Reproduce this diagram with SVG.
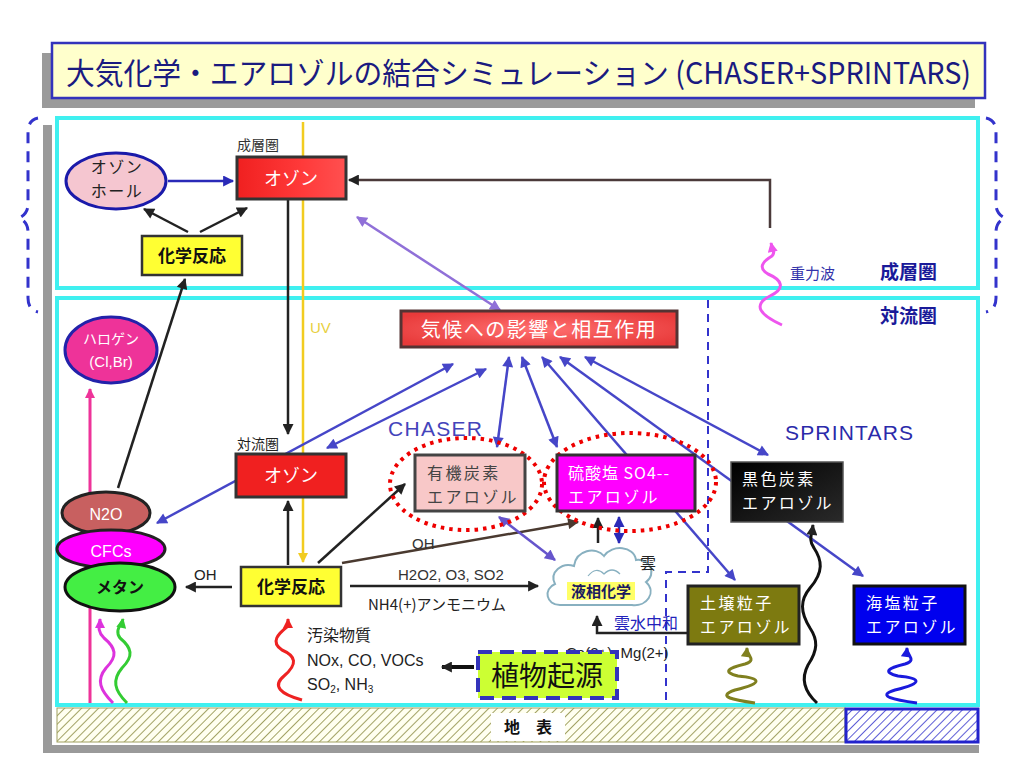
<svg xmlns="http://www.w3.org/2000/svg" width="1024" height="768" viewBox="0 0 1024 768">
<style>
.jp{font-family:"Noto Sans CJK JP","Liberation Sans",sans-serif}
.la{font-family:"Liberation Sans","Noto Sans CJK JP",sans-serif}
.bx{stroke:#333;stroke-width:3}
.wt{fill:#fff}
.bt{font-size:16px;letter-spacing:2.4px}
.blue{stroke:#4646c8;stroke-width:2.5;fill:none;marker-start:url(#mb);marker-end:url(#mb)}
.blk{stroke:#222;stroke-width:2.5;fill:none;marker-end:url(#mk)}
.wave{fill:none;stroke-width:3}
</style>
<defs>
<marker id="mk" viewBox="0 0 10 10" refX="9" refY="5" markerWidth="13" markerHeight="11" markerUnits="userSpaceOnUse" orient="auto-start-reverse"><path d="M0,0 L10,5 L0,10 z" fill="#222"/></marker>
<marker id="mbr" viewBox="0 0 10 10" refX="9" refY="5" markerWidth="13" markerHeight="11" markerUnits="userSpaceOnUse" orient="auto-start-reverse"><path d="M0,0 L10,5 L0,10 z" fill="#4a3a30"/></marker>
<marker id="mb" viewBox="0 0 10 10" refX="9" refY="5" markerWidth="13" markerHeight="11" markerUnits="userSpaceOnUse" orient="auto-start-reverse"><path d="M0,0 L10,5 L0,10 z" fill="#4646c8"/></marker>
<marker id="mbd" viewBox="0 0 10 10" refX="9" refY="5" markerWidth="13" markerHeight="11" markerUnits="userSpaceOnUse" orient="auto-start-reverse"><path d="M0,0 L10,5 L0,10 z" fill="#2a2ab8"/></marker>
<marker id="mp" viewBox="0 0 10 10" refX="9" refY="5" markerWidth="13" markerHeight="11" markerUnits="userSpaceOnUse" orient="auto-start-reverse"><path d="M0,0 L10,5 L0,10 z" fill="#9070d8"/></marker>
<marker id="mpv" viewBox="0 0 10 10" refX="9" refY="5" markerWidth="13" markerHeight="11" markerUnits="userSpaceOnUse" orient="auto-start-reverse"><path d="M0,0 L10,5 L0,10 z" fill="#6655cc"/></marker>
<marker id="my" viewBox="0 0 10 10" refX="9" refY="5" markerWidth="12" markerHeight="10" markerUnits="userSpaceOnUse" orient="auto"><path d="M0,0 L10,5 L0,10 z" fill="#f2cc20"/></marker>
<marker id="mpk" viewBox="0 0 10 10" refX="9" refY="5" markerWidth="12" markerHeight="10" markerUnits="userSpaceOnUse" orient="auto"><path d="M0,0 L10,5 L0,10 z" fill="#ee3399"/></marker>
<marker id="mmg" viewBox="0 0 10 10" refX="9" refY="5" markerWidth="12" markerHeight="10" markerUnits="userSpaceOnUse" orient="auto"><path d="M0,0 L10,5 L0,10 z" fill="#dd33dd"/></marker>
<marker id="mgr" viewBox="0 0 10 10" refX="9" refY="5" markerWidth="12" markerHeight="10" markerUnits="userSpaceOnUse" orient="auto"><path d="M0,0 L10,5 L0,10 z" fill="#33cc33"/></marker>
<marker id="mrd" viewBox="0 0 10 10" refX="9" refY="5" markerWidth="12" markerHeight="10" markerUnits="userSpaceOnUse" orient="auto"><path d="M0,0 L10,5 L0,10 z" fill="#ee2222"/></marker>
<marker id="mol" viewBox="0 0 10 10" refX="9" refY="5" markerWidth="12" markerHeight="10" markerUnits="userSpaceOnUse" orient="auto"><path d="M0,0 L10,5 L0,10 z" fill="#808020"/></marker>
<marker id="mbl" viewBox="0 0 10 10" refX="9" refY="5" markerWidth="12" markerHeight="10" markerUnits="userSpaceOnUse" orient="auto"><path d="M0,0 L10,5 L0,10 z" fill="#1a1add"/></marker>
<marker id="mgw" viewBox="0 0 10 10" refX="9" refY="5" markerWidth="12" markerHeight="10" markerUnits="userSpaceOnUse" orient="auto"><path d="M0,0 L10,5 L0,10 z" fill="#ee55ee"/></marker>
<pattern id="hol" width="6" height="6" patternUnits="userSpaceOnUse" patternTransform="rotate(45)"><rect width="6" height="6" fill="#fffff0"/><line x1="0" y1="0" x2="0" y2="6" stroke="#8a8a40" stroke-width="1.6"/></pattern>
<pattern id="hbl" width="6" height="6" patternUnits="userSpaceOnUse" patternTransform="rotate(45)"><rect width="6" height="6" fill="#fff"/><line x1="0" y1="0" x2="0" y2="6" stroke="#3333cc" stroke-width="1.6"/></pattern>
<linearGradient id="gred" x1="0" y1="0" x2="1" y2="0"><stop offset="0" stop-color="#f02020"/><stop offset="0.6" stop-color="#ff3a3a"/><stop offset="1" stop-color="#ff5050"/></linearGradient>
<radialGradient id="gcl" cx="0.5" cy="0.5" r="0.6"><stop offset="0" stop-color="#ff7070"/><stop offset="1" stop-color="#e83a3a"/></radialGradient>
<linearGradient id="gbk" x1="0" y1="0" x2="1" y2="1"><stop offset="0" stop-color="#000"/><stop offset="1" stop-color="#2a2a2a"/></linearGradient>
</defs>

<rect width="1024" height="768" fill="#fff"/>

<!-- title -->
<g id="title">
<rect x="42" y="53" width="933" height="55" fill="#9a9a9a"/>
<rect x="52" y="43" width="933" height="55" fill="#ffffcc" stroke="#3333bb" stroke-width="2.5"/>
<text x="66" y="84" class="jp" font-size="30" fill="#1a1a80" textLength="905" lengthAdjust="spacingAndGlyphs">大気化学・エアロゾルの結合シミュレーション (CHASER+SPRINTARS)</text>
</g>

<!-- panel -->
<g id="panel">
<rect x="43" y="125" width="936" height="628" fill="#9a9a9a"/>
<rect x="52" y="117" width="936" height="628" fill="#fff"/>
<rect x="57" y="118" width="921" height="170" fill="none" stroke="#3ff0f0" stroke-width="4"/>
<rect x="57" y="298" width="921" height="407" fill="none" stroke="#3ff0f0" stroke-width="4"/>
<path d="M38,118 Q28,120 28,132 L28,204 Q28,214 19,218 Q28,222 28,232 L28,298 Q28,310 38,312" fill="none" stroke="#3333cc" stroke-width="3" stroke-dasharray="11,8"/>
<path d="M986,118 Q996,120 996,132 L996,204 Q996,214 1005,218 Q996,222 996,232 L996,298 Q996,310 986,312" fill="none" stroke="#3333cc" stroke-width="3" stroke-dasharray="11,8"/>
<text x="880" y="279" class="jp" font-size="19" font-weight="bold" fill="#1a1a99">成層圏</text>
<text x="880" y="323" class="jp" font-size="19" font-weight="bold" fill="#1a1a99">対流圏</text>
<text x="790" y="279" class="jp" font-size="15" fill="#3333aa">重力波</text>
<text x="388" y="436" class="la" font-size="21" fill="#4444bb" textLength="94">CHASER</text>
<text x="785" y="440" class="la" font-size="21" fill="#2a2aaa" textLength="128">SPRINTARS</text>
<text x="310" y="333" class="la" font-size="15" fill="#e8d040">UV</text>
<path d="M708,300 L708,572 L666,572 L666,704" fill="none" stroke="#3333cc" stroke-width="2" stroke-dasharray="8,6"/>
</g>

<!-- ground -->
<g id="ground">
<rect x="57" y="708" width="788" height="34" fill="url(#hol)" stroke="#a0a060" stroke-width="1"/>
<rect x="846" y="709" width="132" height="33" fill="url(#hbl)" stroke="#2222cc" stroke-width="3"/>
<rect x="491" y="713" width="74" height="28" fill="#fff"/>
<text x="528" y="733" class="jp" font-size="16" font-weight="bold" fill="#111" text-anchor="middle">地　表</text>
</g>

<!-- connectors -->
<g id="connectors">
<line x1="303" y1="122" x2="303" y2="562" stroke="#f2cc20" stroke-width="2.5" marker-end="url(#my)"/>
<path d="M770,228 L770,180 L349,180" fill="none" stroke="#4a3a3a" stroke-width="2.5" marker-end="url(#mk)"/>
<line x1="168" y1="181" x2="233" y2="181" stroke="#2a2ab8" stroke-width="2.5" marker-end="url(#mbd)"/>
<line x1="188" y1="232" x2="144" y2="209" class="blk"/>
<line x1="200" y1="232" x2="247" y2="208" class="blk"/>
<line x1="118" y1="488" x2="185" y2="279" class="blk"/>
<line x1="288" y1="200" x2="288" y2="434" class="blk"/>
<line x1="288" y1="565" x2="288" y2="501" class="blk"/>
<line x1="357" y1="217" x2="500" y2="310" stroke="#9070d8" stroke-width="2.5" marker-start="url(#mp)" marker-end="url(#mp)"/>
<line x1="453" y1="364" x2="157" y2="523" class="blue"/>
<line x1="486" y1="369" x2="327" y2="448" class="blue"/>
<line x1="509" y1="357" x2="497" y2="447" class="blue"/>
<line x1="522" y1="357" x2="557" y2="447" class="blue"/>
<line x1="542" y1="357" x2="735" y2="580" class="blue"/>
<line x1="560" y1="357" x2="863" y2="576" class="blue"/>
<line x1="585" y1="357" x2="768" y2="455" class="blue"/>
<line x1="90" y1="703" x2="90" y2="389" stroke="#ee3399" stroke-width="3" marker-end="url(#mpk)"/>
<path d="M113,703 C100,690 96,680 106,668 C118,656 116,648 104,638 C96,630 100,624 100,619" class="wave" stroke="#dd33dd" marker-end="url(#mmg)"/>
<path d="M127,703 C114,690 112,680 122,668 C134,656 132,648 120,638 C114,630 122,624 123,619" class="wave" stroke="#33cc33" marker-end="url(#mgr)"/>
<path d="M302,700 C280,694 272,686 284,676 C298,664 296,656 282,650 C270,642 278,634 288,626 L288,619" class="wave" stroke="#ee2222" marker-end="url(#mrd)"/>
<path d="M755,703 C735,700 715,697 735,690 C765,683 760,678 738,676 C722,672 728,668 745,664 C758,660 746,655 747,648" class="wave" stroke="#808020" marker-end="url(#mol)"/>
<path d="M917,703 C895,700 875,696 895,690 C925,683 920,678 898,676 C882,672 888,668 905,664 C918,660 906,655 907,648" class="wave" stroke="#1a1add" marker-end="url(#mbl)"/>
<path d="M817,703 C805,692 800,680 808,665 C818,650 818,640 810,628 C800,612 800,600 810,588 C824,572 822,560 814,548 C808,540 812,534 813,525" class="wave" stroke="#111" marker-end="url(#mk)"/>
<path d="M782,325 C760,315 752,305 770,296 C786,288 782,280 768,274 C758,268 762,262 772,256 C776,252 772,248 771,243" class="wave" stroke="#ee55ee" marker-end="url(#mgw)"/>
<line x1="232" y1="587" x2="186" y2="587" class="blk"/>
<text x="194" y="580" class="la" font-size="15" fill="#222">OH</text>
<line x1="318" y1="563" x2="405" y2="484" class="blk"/>
<line x1="342" y1="563" x2="578" y2="522" stroke="#4a3a30" stroke-width="2.5" marker-end="url(#mbr)"/>
<text x="412" y="549" class="la" font-size="15" fill="#333">OH</text>
<line x1="350" y1="586" x2="538" y2="586" class="blk"/>
<text x="398" y="580" class="la" font-size="15" fill="#333">H2O2, O3, SO2</text>
<text x="368" y="610" class="jp" font-size="15" fill="#222">NH4(+)アンモニウム</text>
<line x1="598" y1="543" x2="598" y2="518" class="blk"/>
<line x1="619" y1="543" x2="619" y2="517" stroke="#2a2ab8" stroke-width="2.5" marker-start="url(#mbd)" marker-end="url(#mbd)"/>
<line x1="499" y1="517" x2="555" y2="560" stroke="#6655cc" stroke-width="2.5" marker-start="url(#mpv)" marker-end="url(#mpv)"/>
<path d="M688,633 L597,633 L597,616" fill="none" stroke="#222" stroke-width="2.5" marker-end="url(#mk)"/>
<text x="614" y="629" class="jp" font-size="16" fill="#2222bb">雲水中和</text>
<text x="566" y="658" class="la" font-size="15" fill="#222">Ca(2+), Mg(2+)</text>
<line x1="474" y1="667" x2="442" y2="667" stroke="#111" stroke-width="4" marker-end="url(#mk)"/>
</g>

<!-- nodes -->
<g id="ozone-hole">
<ellipse cx="116" cy="181" rx="50" ry="28" fill="#f5c6d0" stroke="#1a1aaa" stroke-width="3"/>
<text x="117" y="173" class="jp" font-size="16" fill="#222" text-anchor="middle" letter-spacing="1.5">オゾン</text>
<text x="117" y="197" class="jp" font-size="16" fill="#222" text-anchor="middle" letter-spacing="1.5">ホール</text>
</g>
<g id="ozone-strat">
<text x="237" y="150" class="jp" font-size="14" fill="#333">成層圏</text>
<rect x="237" y="157" width="109" height="42" fill="url(#gred)" class="bx"/>
<text x="291" y="185" class="jp wt" font-size="18" text-anchor="middle">オゾン</text>
</g>
<g id="chem-upper">
<rect x="142" y="236" width="100" height="39" fill="#ffff33" stroke="#333" stroke-width="2.5"/>
<text x="192" y="262" class="jp" font-size="17" font-weight="bold" fill="#111" text-anchor="middle">化学反応</text>
</g>
<g id="climate">
<rect x="401" y="311" width="276" height="36" fill="url(#gcl)" stroke="#553333" stroke-width="3"/>
<text x="539" y="337" class="jp wt" font-size="20" text-anchor="middle" letter-spacing="1.5">気候への影響と相互作用</text>
</g>
<g id="halogen">
<ellipse cx="111" cy="350" rx="46" ry="33" fill="#ee3399" stroke="#2222aa" stroke-width="3"/>
<text x="111" y="344" class="jp wt" font-size="14" text-anchor="middle">ハロゲン</text>
<text x="111" y="367" class="la wt" font-size="15" text-anchor="middle">(Cl,Br)</text>
</g>
<g id="ozone-trop">
<text x="237" y="449" class="jp" font-size="14" fill="#222">対流圏</text>
<rect x="236" y="454" width="110" height="43" fill="#f02020" class="bx"/>
<text x="291" y="482" class="jp wt" font-size="18" text-anchor="middle">オゾン</text>
</g>
<g id="n2o">
<ellipse cx="106" cy="513" rx="44" ry="21" fill="#c86060" stroke="#222" stroke-width="3"/>
<text x="106" y="520" class="la wt" font-size="16" text-anchor="middle">N2O</text>
</g>
<g id="cfcs">
<ellipse cx="111" cy="549" rx="54" ry="19" fill="#ff00ff" stroke="#222" stroke-width="3"/>
<text x="111" y="557" class="la wt" font-size="16" text-anchor="middle">CFCs</text>
</g>
<g id="methane">
<ellipse cx="120" cy="587" rx="55" ry="24" fill="#44ee44" stroke="#111" stroke-width="3"/>
<text x="120" y="593" class="jp" font-size="16" font-weight="bold" fill="#111" text-anchor="middle">メタン</text>
</g>
<g id="organic">
<ellipse cx="466" cy="484" rx="76" ry="46" fill="none" stroke="#e00" stroke-width="4" stroke-dasharray="3.5,5"/>
<rect x="415" y="455" width="110" height="56" fill="#f8c8c8" stroke="#444" stroke-width="3"/>
<text x="427" y="479" class="jp bt" fill="#444">有機炭素</text>
<text x="427" y="503" class="jp bt" fill="#444">エアロゾル</text>
</g>
<g id="sulfate">
<ellipse cx="630" cy="482" rx="86" ry="49" fill="none" stroke="#e00" stroke-width="4" stroke-dasharray="3.5,5"/>
<rect x="557" y="455" width="138" height="56" fill="#ff00ff" stroke="#333" stroke-width="3"/>
<text x="568" y="479" class="jp wt" font-size="16" letter-spacing="1">硫酸塩 SO4--</text>
<text x="568" y="503" class="jp wt bt">エアロゾル</text>
</g>
<g id="black-carbon">
<rect x="731" y="462" width="112" height="60" fill="url(#gbk)" stroke="#555" stroke-width="1.5"/>
<text x="742" y="485" class="jp wt bt">黒色炭素</text>
<text x="742" y="509" class="jp wt bt">エアロゾル</text>
</g>
<g id="chem-lower">
<rect x="241" y="567" width="100" height="39" fill="#ffff33" stroke="#333" stroke-width="2.5"/>
<text x="291" y="593" class="jp" font-size="17" font-weight="bold" fill="#111" text-anchor="middle">化学反応</text>
</g>
<g id="cloud">
<path d="M560,605 C546,605 543,589 555,584 C549,572 562,562 574,566 C576,550 596,546 604,556 C612,544 634,546 636,560 C650,558 657,574 646,582 C657,592 647,607 632,605 Z" fill="#fff" stroke="#88b0c0" stroke-width="2"/>
<path d="M588,576 Q596,566 604,574 Q612,566 620,574" fill="none" stroke="#88b0c0" stroke-width="1.2"/>
<rect x="567" y="582" width="68" height="18" fill="#ffff66"/>
<text x="601" y="597" class="jp" font-size="15" font-weight="bold" fill="#1a1a60" text-anchor="middle">液相化学</text>
<text x="640" y="569" class="jp" font-size="16" fill="#222">雲</text>
</g>
<g id="soil">
<rect x="688" y="586" width="111" height="58" fill="#7d7a10" stroke="#222" stroke-width="3"/>
<text x="700" y="609" class="jp wt bt">土壌粒子</text>
<text x="700" y="633" class="jp wt bt">エアロゾル</text>
</g>
<g id="sea-salt">
<rect x="854" y="586" width="111" height="58" fill="#0000ee" stroke="#111" stroke-width="3"/>
<text x="866" y="609" class="jp wt bt">海塩粒子</text>
<text x="866" y="633" class="jp wt bt">エアロゾル</text>
</g>
<g id="pollutants">
<text x="307" y="641" class="jp" font-size="16" fill="#222">汚染物質</text>
<text x="307" y="666" class="la" font-size="16" fill="#222">NOx, CO, VOCs</text>
<text x="307" y="690" class="la" font-size="16" fill="#222">SO<tspan font-size="10" dy="3">2</tspan><tspan dy="-3">, NH</tspan><tspan font-size="10" dy="3">3</tspan></text>
</g>
<g id="biogenic">
<rect x="478" y="652" width="139" height="46" fill="#ccff33" stroke="#3333bb" stroke-width="4" stroke-dasharray="14,8"/>
<text x="547" y="686" class="jp" font-size="28" fill="#111" text-anchor="middle">植物起源</text>
</g>
</svg>
